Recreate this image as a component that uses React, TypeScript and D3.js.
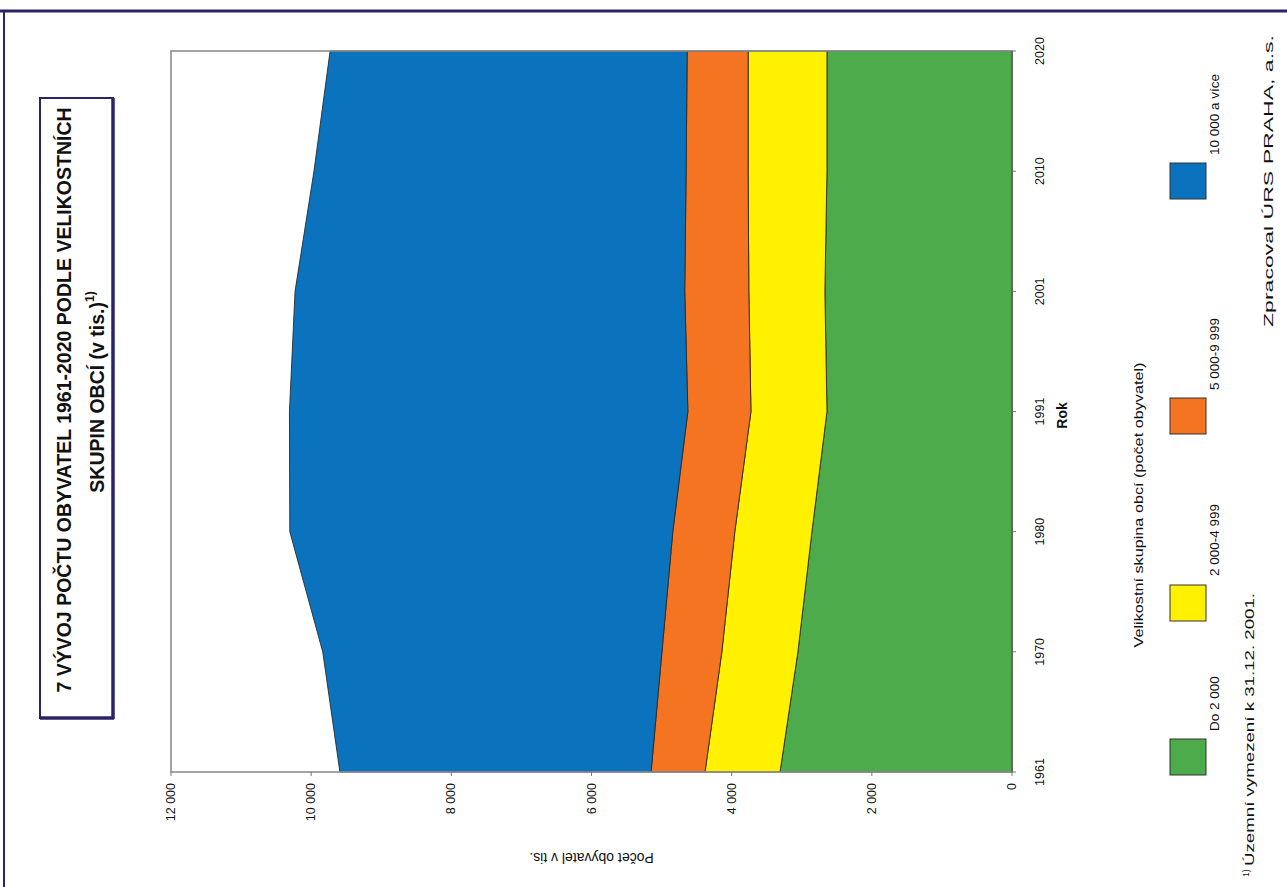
import React from "react";
import * as d3 from "d3";

// ---- data ----
const years = ["1961", "1970", "1980", "1991", "2001", "2010", "2020"];
const seriesNames = ["Do 2 000", "2 000-4 999", "5 000-9 999", "10 000 a více"];
const doDva = [3310, 3055, 2855, 2640, 2670, 2640, 2640];
const dvaAzPet = [1070, 1085, 1100, 1085, 1085, 1125, 1125];
const petAzDeset = [770, 855, 885, 900, 915, 885, 870];
const nadDeset = [4440, 4840, 5465, 5685, 5560, 5310, 5095];
const valueTicks = [0, 2000, 4000, 6000, 8000, 10000, 12000];
const colors = ["#4dab4b", "#fff100", "#f47421", "#0b72bd"];

const FONT = "'Liberation Sans', Arial, Helvetica, sans-serif";
const NAVY = "#2b2466";

const fmt = d3.formatLocale({ decimal: ",", thousands: " ", grouping: [3], currency: ["", ""] }).format(",");

function VText(props: any) {
  const { x, y, anchor = "middle", size = 12, weight = "normal", rot = -90, children, fill = "#111", len } = props;
  const extra: any = {};
  if (len) {
    extra.textLength = len;
    extra.lengthAdjust = "spacingAndGlyphs";
  }
  return (
    <text
      transform={`translate(${x},${y}) rotate(${rot})`}
      textAnchor={anchor}
      dominantBaseline="central"
      fontFamily={FONT}
      fontSize={size}
      fontWeight={weight}
      fill={fill}
      {...extra}
    >
      {children}
    </text>
  );
}

export default function App() {
  const W = 1287;
  const H = 887;
  const plot = { left: 171, right: 1012, top: 51, bottom: 772 };

  const yearScale = d3.scalePoint<string>().domain(years).range([plot.bottom, plot.top]);
  const valScale = d3.scaleLinear().domain([0, 12000]).range([plot.right, plot.left]);

  const rows = years.map((yr, i) => ({
    year: yr,
    s0: doDva[i],
    s1: dvaAzPet[i],
    s2: petAzDeset[i],
    s3: nadDeset[i],
  }));
  const keys = ["s0", "s1", "s2", "s3"];
  const stacked = d3.stack<any>().keys(keys)(rows as any);

  const area = d3
    .area<any>()
    .y((d) => yearScale(d.data.year) as number)
    .x0((d) => valScale(d[0]))
    .x1((d) => valScale(d[1]));

  // legend layout (screen coords, rotated chart)
  const legendSquares = [
    { top: 739, labelStart: 731 },
    { top: 585, labelStart: 576 },
    { top: 398, labelStart: 390 },
    { top: 163, labelStart: 155 },
  ];

  return (
    <svg
      width={W}
      height={H}
      viewBox={`0 0 ${W} ${H}`}
      style={{ position: "absolute", left: 0, top: 0, background: "#fff" }}
    >
      <rect x={0} y={0} width={W} height={H} fill="#fff" />
      {/* page frame */}
      <line x1={0} x2={W} y1={11} y2={11} stroke={NAVY} strokeWidth={3} />
      <line x1={4} x2={4} y1={10} y2={H} stroke={NAVY} strokeWidth={2} />

      {/* title box */}
      <rect x={40} y={98} width={73} height={620} fill="#fff" stroke={NAVY} strokeWidth={2} />
      <line x1={113} x2={113} y1={98} y2={719} stroke={NAVY} strokeWidth={3.5} />
      <line x1={40} x2={114} y1={718} y2={718} stroke={NAVY} strokeWidth={3.5} />
      <VText x={64} y={400} size={19.5} weight="bold">
        {"7  VÝVOJ POČTU OBYVATEL 1961-2020 PODLE VELIKOSTNÍCH"}
      </VText>
      <VText x={97} y={392} size={19.5} weight="bold">
        <tspan>SKUPIN OBCÍ (v tis.)</tspan>
        <tspan fontSize={12} dy={-7}>1)</tspan>
      </VText>

      {/* plot background */}
      <rect
        x={plot.left}
        y={plot.top}
        width={plot.right - plot.left}
        height={plot.bottom - plot.top}
        fill="#fff"
      />
      {/* areas */}
      {stacked.map((s, i) => (
        <path key={i} d={area(s as any) || ""} fill={colors[i]} stroke="#2a2a2a" strokeWidth={0.9} strokeLinejoin="round" />
      ))}
      {/* plot frame */}
      <rect
        x={plot.left}
        y={plot.top}
        width={plot.right - plot.left}
        height={plot.bottom - plot.top}
        fill="none"
        stroke="#8c8c8c"
        strokeWidth={1.6}
      />
      <line x1={plot.right} x2={plot.right} y1={plot.top} y2={plot.bottom} stroke="#555" strokeWidth={1.4} />

      {/* year axis (right) */}
      {years.map((yr) => (
        <g key={yr}>
          <line
            x1={plot.right}
            x2={plot.right + 4}
            y1={yearScale(yr)}
            y2={yearScale(yr)}
            stroke="#777"
            strokeWidth={1}
          />
          <VText x={1040} y={yearScale(yr)} size={12.5}>
            {yr}
          </VText>
        </g>
      ))}
      <VText x={1062} y={(plot.top + plot.bottom) / 2 + 4} size={14} weight="bold">
        Rok
      </VText>

      {/* value axis (bottom) */}
      {valueTicks.map((v) => (
        <g key={v}>
          <line x1={valScale(v)} x2={valScale(v)} y1={plot.bottom} y2={plot.bottom + 4} stroke="#777" strokeWidth={1} />
          <VText x={valScale(v)} y={plot.bottom + 11} size={12.5} anchor="end">
            {fmt(v)}
          </VText>
        </g>
      ))}
      <VText x={(plot.left + plot.right) / 2} y={858} size={14} rot={180}>
        Počet obyvatel v tis.
      </VText>

      {/* legend */}
      <VText x={1138} y={505} size={13.5} len={285}>
        Velikostní skupina obcí (počet obyvatel)
      </VText>
      {seriesNames.map((name, i) => (
        <g key={name}>
          <rect
            x={1170}
            y={legendSquares[i].top}
            width={36}
            height={36}
            fill={colors[i]}
            stroke="#333"
            strokeWidth={1}
          />
          <VText x={1214} y={legendSquares[i].labelStart} size={13.5} anchor="start">
            {name}
          </VText>
        </g>
      ))}

      {/* footnotes */}
      <VText x={1246} y={877} size={8.5} anchor="start">
        1)
      </VText>
      <VText x={1249} y={866} size={13.5} anchor="start" len={273}>
        Územní vymezení k 31.12. 2001.
      </VText>
      <VText x={1268} y={35} size={13.5} anchor="end" len={292}>
        Zpracoval ÚRS PRAHA, a.s.
      </VText>
    </svg>
  );
}
